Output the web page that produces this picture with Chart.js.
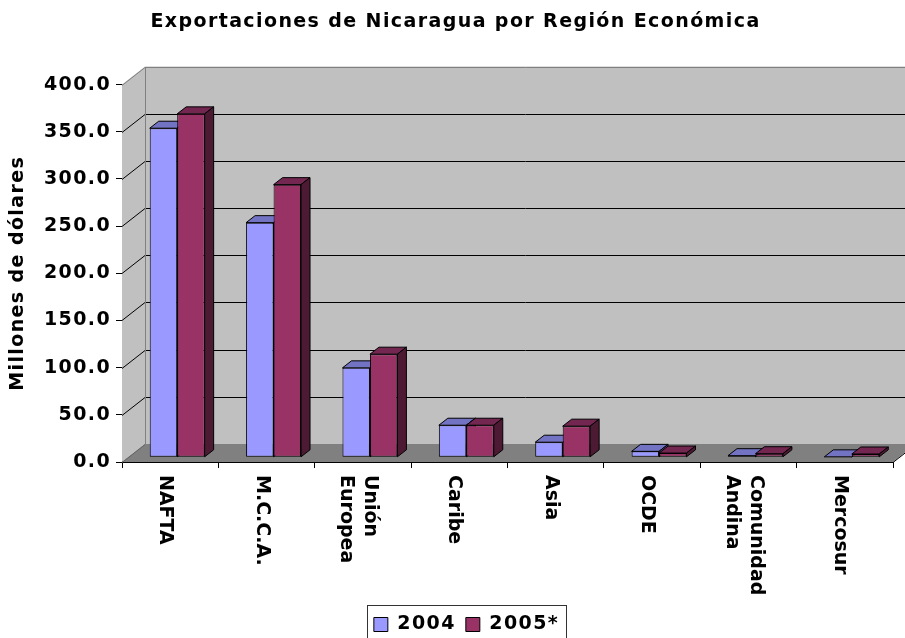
<!DOCTYPE html>
<html>
<head>
<meta charset="utf-8">
<script src="https://cdn.jsdelivr.net/npm/chart.js@4.4.1/dist/chart.umd.min.js"></script>
<style>
  html, body { margin: 0; padding: 0; background: #fff; }
</style>
</head>
<body>
<canvas id="chart" width="905" height="638"></canvas>
<script>
const categories = ['NAFTA', 'M.C.C.A.', ['Unión', 'Europea'], 'Caribe', 'Asia', 'OCDE', ['Comunidad', 'Andina'], 'Mercosur'];
const seriesLabels = ['2004', '2005*'];
const values2004 = [348.8, 248.7, 94.8, 34.0, 16.0, 6.3, 1.7, 0.5];
const values2005 = [364.0, 289.0, 109.3, 34.0, 33.0, 4.5, 3.8, 3.5];
const yTicks = [0, 50, 100, 150, 200, 250, 300, 350, 400];

const FONT = "'DejaVu Sans', Verdana, sans-serif";
const font19 = { family: FONT, size: 19, weight: 'bold' };

// fake 3D: wall depth, where the bars sit in it, and bar depth
const WALL = { dx: 23, dy: -18 };
const BAR_SHIFT = { dx: 7, dy: -4.7 };
const BAR_DEPTH = { dx: 9, dy: -7 };
const faceColors = [
  { top: '#7373C4', side: '#4D4D80' },
  { top: '#732650', side: '#4D1A33' }
];

function poly(ctx, pts, fill, stroke) {
  ctx.beginPath();
  ctx.moveTo(pts[0][0], pts[0][1]);
  for (let i = 1; i < pts.length; i++) ctx.lineTo(pts[i][0], pts[i][1]);
  ctx.closePath();
  if (fill) { ctx.fillStyle = fill; ctx.fill(); }
  if (stroke) { ctx.strokeStyle = stroke; ctx.lineWidth = 1; ctx.stroke(); }
}

function line(ctx, x1, y1, x2, y2, color) {
  ctx.beginPath();
  ctx.moveTo(x1, y1);
  ctx.lineTo(x2, y2);
  ctx.strokeStyle = color;
  ctx.lineWidth = 1;
  ctx.stroke();
}

// wide lettering like the original
const spacing = {
  id: 'spacing',
  beforeUpdate(chart) { chart.ctx.letterSpacing = '1.4px'; },
  beforeDraw(chart) { chart.ctx.letterSpacing = '1.4px'; }
};

const box3d = {
  id: 'box3d',
  beforeDatasetsDraw(chart) {
    const { ctx, chartArea: a, scales: { y } } = chart;
    const { dx, dy } = WALL;
    ctx.save();

    ctx.save();
    // back wall, left wall, floor
    poly(ctx, [[a.left + dx, a.top + dy], [a.right + dx, a.top + dy], [a.right + dx, a.bottom + dy], [a.left + dx, a.bottom + dy]], '#C0C0C0');
    poly(ctx, [[a.left, a.top], [a.left + dx, a.top + dy], [a.left + dx, a.bottom + dy], [a.left, a.bottom]], '#C0C0C0');
    poly(ctx, [[a.left, a.bottom], [a.right, a.bottom], [a.right + dx, a.bottom + dy], [a.left + dx, a.bottom + dy]], '#808080');

    // gridlines on the back wall + diagonals on the side wall
    yTicks.forEach(v => {
      const py = Math.round(y.getPixelForValue(v)) + 0.5;
      if (v === yTicks[0] || v === yTicks[yTicks.length - 1]) return;
      line(ctx, a.left + dx, py + dy, a.right + dx, py + dy, '#000');
      line(ctx, a.left, py, a.left + dx, py + dy, '#000');
    });
    const top = Math.round(a.top) + 0.5, bot = Math.round(a.bottom) + 0.5;
    line(ctx, a.left + dx, top + dy, a.right + dx, top + dy, '#808080');
    line(ctx, a.left, top, a.left + dx, top + dy, '#808080');
    line(ctx, Math.round(a.left + dx) + 0.5, top + dy, Math.round(a.left + dx) + 0.5, bot + dy, '#808080');
    line(ctx, a.left, bot, a.left + dx, bot + dy, '#606060');
    line(ctx, a.right, bot, a.right + dx, bot + dy, '#000');
    ctx.restore();

    // top and side faces of the bars; fronts are drawn by Chart.js in the same shifted frame
    ctx.translate(BAR_SHIFT.dx, BAR_SHIFT.dy);
    chart.data.datasets.forEach((ds, di) => {
      const meta = chart.getDatasetMeta(di);
      meta.data.forEach(bar => {
        const { x, y: t, base, width } = bar.getProps(['x', 'y', 'base', 'width'], true);
        const l = x - width / 2, r = x + width / 2;
        const ddx = BAR_DEPTH.dx, ddy = BAR_DEPTH.dy;
        poly(ctx, [[l, t], [l + ddx, t + ddy], [r + ddx, t + ddy], [r, t]], faceColors[di].top, '#000');
        poly(ctx, [[r, t], [r + ddx, t + ddy], [r + ddx, base + ddy], [r, base]], faceColors[di].side, '#000');
      });
    });
  },
  afterDatasetsDraw(chart) {
    chart.ctx.restore();
  }
};

const xLabels = {
  id: 'xLabels',
  afterLayout(chart) {
    // the original legend and title sit a bit right of centre
    const lg = chart.legend;
    lg.left += 20;
    lg.right += 20;
    const tb = chart.titleBlock;
    tb.left += 9;
    tb.right += 9;
  },
  afterDraw(chart) {
    const { ctx, chartArea: a, scales: { x } } = chart;
    ctx.save();
    ctx.font = `bold 19px ${FONT}`;
    ctx.letterSpacing = '0px';
    ctx.fillStyle = '#000';
    ctx.textAlign = 'left';
    ctx.textBaseline = 'middle';
    categories.forEach((cat, i) => {
      const lines = Array.isArray(cat) ? cat : [cat];
      const cx = x.getPixelForValue(i) - 5;
      lines.forEach((txt, j) => {
        const off = ((lines.length - 1) / 2 - j) * 24;
        ctx.save();
        ctx.translate(cx + off, a.bottom + 13);
        ctx.rotate(Math.PI / 2);
        ctx.fillText(txt, 0, 0);
        ctx.restore();
      });
    });

    // legend frame
    const lg = chart.legend;
    const p = lg.options.labels.padding;
    const w = lg.lineWidths[0];
    const x0 = (lg.left + p + lg.right - w) / 2;
    ctx.strokeStyle = '#333';
    ctx.lineWidth = 1;
    ctx.strokeRect(Math.round(x0 - 7) + 0.5, Math.round(lg.top) + 0.5, Math.round(w - p + 14), 60);
    ctx.restore();
  }
};

new Chart(document.getElementById('chart'), {
  type: 'bar',
  data: {
    labels: categories,
    datasets: [
      {
        label: seriesLabels[0],
        data: values2004,
        backgroundColor: '#9999FF',
        borderColor: '#000',
        borderWidth: 1,
        borderSkipped: false,
        clip: false,
        categoryPercentage: 0.57,
        barPercentage: 1
      },
      {
        label: seriesLabels[1],
        data: values2005,
        backgroundColor: '#993366',
        borderColor: '#000',
        borderWidth: 1,
        borderSkipped: false,
        clip: false,
        categoryPercentage: 0.57,
        barPercentage: 1
      }
    ]
  },
  options: {
    responsive: false,
    animation: false,
    events: [],
    layout: { padding: { top: 0, right: 12, bottom: -6, left: 0 } },
    plugins: {
      title: {
        display: true,
        text: 'Exportaciones de Nicaragua por Región Económica',
        color: '#000',
        font: font19,
        padding: { top: 10.6, bottom: 51.2 }
      },
      legend: {
        position: 'bottom',
        labels: {
          color: '#000',
          font: font19,
          boxWidth: 14,
          boxHeight: 14,
          padding: 10
        }
      },
      tooltip: { enabled: false }
    },
    scales: {
      x: {
        offset: true,
        grid: { offset: true, drawOnChartArea: false, color: '#000', tickLength: 6 },
        border: { color: '#000' },
        ticks: { display: false },
        afterFit(s) { s.height = 143; }
      },
      y: {
        min: yTicks[0],
        max: yTicks[yTicks.length - 1],
        ticks: {
          stepSize: yTicks[1] - yTicks[0],
          color: '#000',
          font: font19,
          padding: 5,
          callback: v => v.toFixed(1)
        },
        grid: { drawOnChartArea: false, color: '#000', tickLength: 6 },
        border: { color: '#000' },
        title: {
          display: true,
          text: 'Millones de dólares',
          color: '#000',
          font: font19,
          padding: { top: 6.6, bottom: 0 }
        },
        afterFit(s) { s.width = 122; }
      }
    }
  },
  plugins: [spacing, box3d, xLabels]
});
</script>
</body>
</html>
